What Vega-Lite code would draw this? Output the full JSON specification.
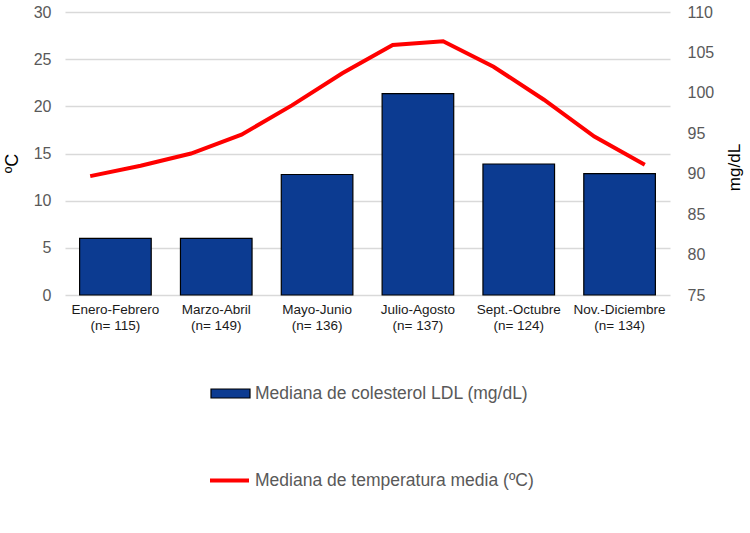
{
  "$schema": "https://vega.github.io/schema/vega-lite/v6.json",
  "description": "Mediana de colesterol LDL por bimestre y temperatura media mensual",
  "width": 605,
  "height": 283,
  "autosize": {"type": "none"},
  "padding": {"left": 65, "top": 12, "right": 80, "bottom": 238},
  "background": "white",
  "config": {
    "view": {"stroke": "transparent"},
    "font": "Liberation Sans",
    "axis": {"domain": false, "ticks": false},
    "legend": {"padding": 0, "labelLimit": 500}
  },
  "datasets": {
    "ldl": [
      {"periodo": "Enero-Febrero|(n= 115)", "ldl": 82.0},
      {"periodo": "Marzo-Abril|(n= 149)", "ldl": 82.0},
      {"periodo": "Mayo-Junio|(n= 136)", "ldl": 89.9},
      {"periodo": "Julio-Agosto|(n= 137)", "ldl": 99.9},
      {"periodo": "Sept.-Octubre|(n= 124)", "ldl": 91.2},
      {"periodo": "Nov.-Diciembre|(n= 134)", "ldl": 90.0}
    ],
    "temp": [
      {"mes": 1, "temp": 12.6},
      {"mes": 2, "temp": 13.7},
      {"mes": 3, "temp": 15.0},
      {"mes": 4, "temp": 17.0},
      {"mes": 5, "temp": 20.1},
      {"mes": 6, "temp": 23.5},
      {"mes": 7, "temp": 26.5},
      {"mes": 8, "temp": 26.9},
      {"mes": 9, "temp": 24.2},
      {"mes": 10, "temp": 20.7},
      {"mes": 11, "temp": 16.8},
      {"mes": 12, "temp": 13.8}
    ]
  },
  "layer": [
    {
      "data": {"name": "temp"},
      "mark": {"type": "rule", "opacity": 0},
      "encoding": {
        "y": {
          "field": "temp",
          "type": "quantitative",
          "scale": {"domain": [0, 30]},
          "axis": {
            "title": "ºC",
            "values": [0, 5, 10, 15, 20, 25, 30],
            "grid": true,
            "gridColor": "#d9d9d9",
            "gridWidth": 1.5,
            "labelFontSize": 16,
            "labelColor": "#595959",
            "labelPadding": 14,
            "titleFontSize": 18,
            "titleFontWeight": "normal",
            "titleColor": "#000000",
            "titlePadding": 12,
            "titleY": 151
          }
        }
      }
    },
    {
      "data": {"name": "ldl"},
      "mark": {"type": "bar", "color": "#0c3b91", "stroke": "#000000", "strokeWidth": 1.2},
      "encoding": {
        "x": {
          "field": "periodo",
          "type": "nominal",
          "sort": null,
          "scale": {"paddingInner": 0.29, "paddingOuter": 0.145},
          "axis": {
            "title": null,
            "labelAngle": 0,
            "labelExpr": "split(datum.label, '|')",
            "labelFontSize": 13.5,
            "labelColor": "#1a1a1a",
            "labelLineHeight": 16,
            "labelPadding": 7
          }
        },
        "y": {
          "field": "ldl",
          "type": "quantitative",
          "scale": {"domain": [75, 110], "zero": false},
          "axis": {
            "orient": "right",
            "title": "mg/dL",
            "values": [75, 80, 85, 90, 95, 100, 105, 110],
            "grid": false,
            "labelFontSize": 16,
            "labelColor": "#595959",
            "labelPadding": 17,
            "titleFontSize": 17,
            "titleFontWeight": "normal",
            "titleColor": "#000000",
            "titleAngle": -90,
            "titlePadding": 30,
            "titleY": 155
          }
        },
        "y2": {"datum": 75},
        "fill": {
          "datum": "Mediana de colesterol LDL (mg/dL)",
          "type": "nominal",
          "scale": {"range": ["#0c3b91"]},
          "legend": {
            "title": null,
            "orient": "none",
            "legendX": 145,
            "legendY": 361,
            "symbolType": "M-1,-0.23H1V0.23H-1Z",
            "symbolSize": 1521,
            "symbolStrokeColor": "#000000",
            "symbolStrokeWidth": 1.2,
            "symbolFillColor": "#0c3b91",
            "labelFontSize": 17.5,
            "labelColor": "#595959",
            "labelOffset": 4
          }
        }
      }
    },
    {
      "data": {"name": "temp"},
      "mark": {"type": "line", "strokeWidth": 4},
      "encoding": {
        "x": {
          "field": "mes",
          "type": "quantitative",
          "scale": {"domain": [0.5, 12.5], "nice": false},
          "axis": null
        },
        "y": {
          "field": "temp",
          "type": "quantitative",
          "scale": {"domain": [0, 30]},
          "axis": null
        },
        "stroke": {
          "datum": "Mediana de temperatura media (ºC)",
          "type": "nominal",
          "scale": {"range": ["#ff0000"]},
          "legend": {
            "title": null,
            "orient": "none",
            "legendX": 143,
            "legendY": 447,
            "symbolType": "stroke",
            "symbolSize": 1521,
            "symbolStrokeWidth": 4,
            "labelFontSize": 17.5,
            "labelColor": "#595959",
            "labelOffset": 4
          }
        }
      }
    }
  ],
  "resolve": {"scale": {"x": "independent", "y": "independent", "fill": "independent", "stroke": "independent"}}
}
